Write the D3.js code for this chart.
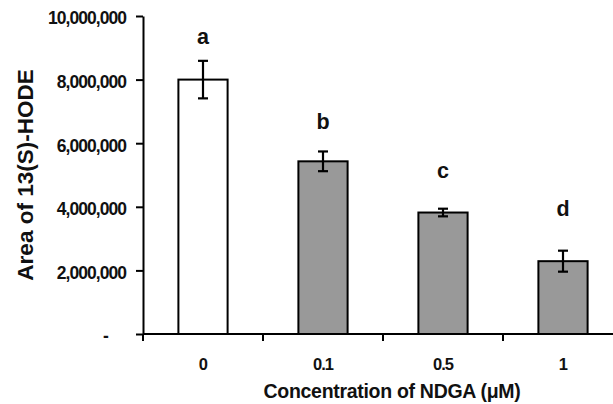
<!DOCTYPE html>
<html>
<head>
<meta charset="utf-8">
<script src="https://cdn.jsdelivr.net/npm/d3@7"></script>
<style>
  body { margin: 0; background: #fff; }
  svg { font-family: "Liberation Sans", Arial, sans-serif; font-weight: bold; }
</style>
</head>
<body>
<svg width="613" height="404"></svg>
<script>
// data
var concentrations = ["0", "0.1", "0.5", "1"];
var areas = [8000000, 5430000, 3820000, 2290000];
var errors = [590000, 310000, 120000, 330000];
var letters = ["a", "b", "c", "d"];
// where the significance letters sit, in y units
var letterValues = [9120000, 6450000, 4910000, 3710000];
var yTicks = [0, 2000000, 4000000, 6000000, 8000000, 10000000];

var margin = { top: 16, left: 143 };
var plotH = 318;

var svg = d3.select("svg");
var g = svg.append("g").attr("transform", "translate(" + margin.left + "," + margin.top + ")");

var x = d3.scaleBand().domain(concentrations).range([0, 480]);
var y = d3.scaleLinear().domain([0, 10000000]).range([plotH, 0]);
var barW = x.bandwidth() * 0.41;

// bars
g.selectAll("rect.bar").data(areas).enter()
  .append("rect")
  .attr("class", "bar")
  .attr("x", function (d, i) { return x(concentrations[i]) + (x.bandwidth() - barW) / 2; })
  .attr("y", function (d) { return y(d); })
  .attr("width", barW)
  .attr("height", function (d) { return plotH - y(d); })
  .attr("fill", function (d, i) { return i === 0 ? "#fff" : "#999"; })
  .attr("stroke", "#000")
  .attr("stroke-width", 2);

// error bars
var cx = function (i) { return x(concentrations[i]) + x.bandwidth() / 2; };
var eb = g.selectAll("g.err").data(areas).enter().append("g").attr("class", "err")
  .attr("stroke", "#000").attr("stroke-width", 2.2);
eb.append("line")
  .attr("x1", function (d, i) { return cx(i); })
  .attr("x2", function (d, i) { return cx(i); })
  .attr("y1", function (d, i) { return y(d + errors[i]); })
  .attr("y2", function (d, i) { return y(d - errors[i]); });
eb.append("line")
  .attr("x1", function (d, i) { return cx(i) - 5; })
  .attr("x2", function (d, i) { return cx(i) + 5; })
  .attr("y1", function (d, i) { return y(d + errors[i]); })
  .attr("y2", function (d, i) { return y(d + errors[i]); });
eb.append("line")
  .attr("x1", function (d, i) { return cx(i) - 5; })
  .attr("x2", function (d, i) { return cx(i) + 5; })
  .attr("y1", function (d, i) { return y(d - errors[i]); })
  .attr("y2", function (d, i) { return y(d - errors[i]); });

// significance letters
g.selectAll("text.letter").data(letters).enter()
  .append("text")
  .attr("class", "letter")
  .attr("x", function (d, i) { return cx(i); })
  .attr("y", function (d, i) { return y(letterValues[i]); })
  .attr("text-anchor", "middle")
  .attr("font-size", 21.5)
  .attr("fill", "#111")
  .text(function (d) { return d; });

// y axis
var yAxis = g.append("g")
  .call(d3.axisLeft(y).tickValues(yTicks).tickSize(7).tickSizeOuter(0).tickPadding(10)
    .tickFormat(function (d) { return d === 0 ? "-" : d3.format(",")(d); }));
yAxis.select(".domain").attr("stroke-width", 2);
yAxis.selectAll(".tick line").attr("stroke-width", 2);
yAxis.selectAll("text")
  .attr("font-size", 17.5)
  .attr("font-family", "Liberation Sans, Arial, sans-serif")
  .attr("font-weight", "bold")
  .attr("letter-spacing", "-0.95px")
  .attr("dy", "0.45em")
  .attr("fill", "#111");
yAxis.selectAll(".tick").filter(function (d) { return d === 0; }).select("text").attr("x", -35);

// x axis: labels at band centres, tick marks at band edges
var xAxis = g.append("g").attr("transform", "translate(0," + plotH + ")")
  .call(d3.axisBottom(x).tickSize(0).tickPadding(24));
xAxis.select(".domain").remove();
xAxis.selectAll("text")
  .attr("font-size", 16.5)
  .attr("font-family", "Liberation Sans, Arial, sans-serif")
  .attr("font-weight", "bold")
  .attr("letter-spacing", "-0.9px")
  .attr("fill", "#111");
xAxis.append("line")
  .attr("x1", 0).attr("x2", 613 - margin.left)
  .attr("stroke", "#000").attr("stroke-width", 2);
xAxis.selectAll("line.edge").data(concentrations).enter()
  .append("line").attr("class", "edge")
  .attr("x1", function (d) { return x(d); })
  .attr("x2", function (d) { return x(d); })
  .attr("y1", 0).attr("y2", 7)
  .attr("stroke", "#000").attr("stroke-width", 2);

// axis titles
svg.append("text")
  .attr("transform", "translate(33,175) rotate(-90)")
  .attr("text-anchor", "middle")
  .attr("font-size", 22.5)
  .attr("fill", "#111")
  .text("Area of 13(S)-HODE");

svg.append("text")
  .attr("x", 392).attr("y", 398)
  .attr("text-anchor", "middle")
  .attr("font-size", 19.5)
  .attr("letter-spacing", "-0.3px")
  .attr("fill", "#111")
  .text("Concentration of NDGA (\u03bcM)");
</script>
</body>
</html>
